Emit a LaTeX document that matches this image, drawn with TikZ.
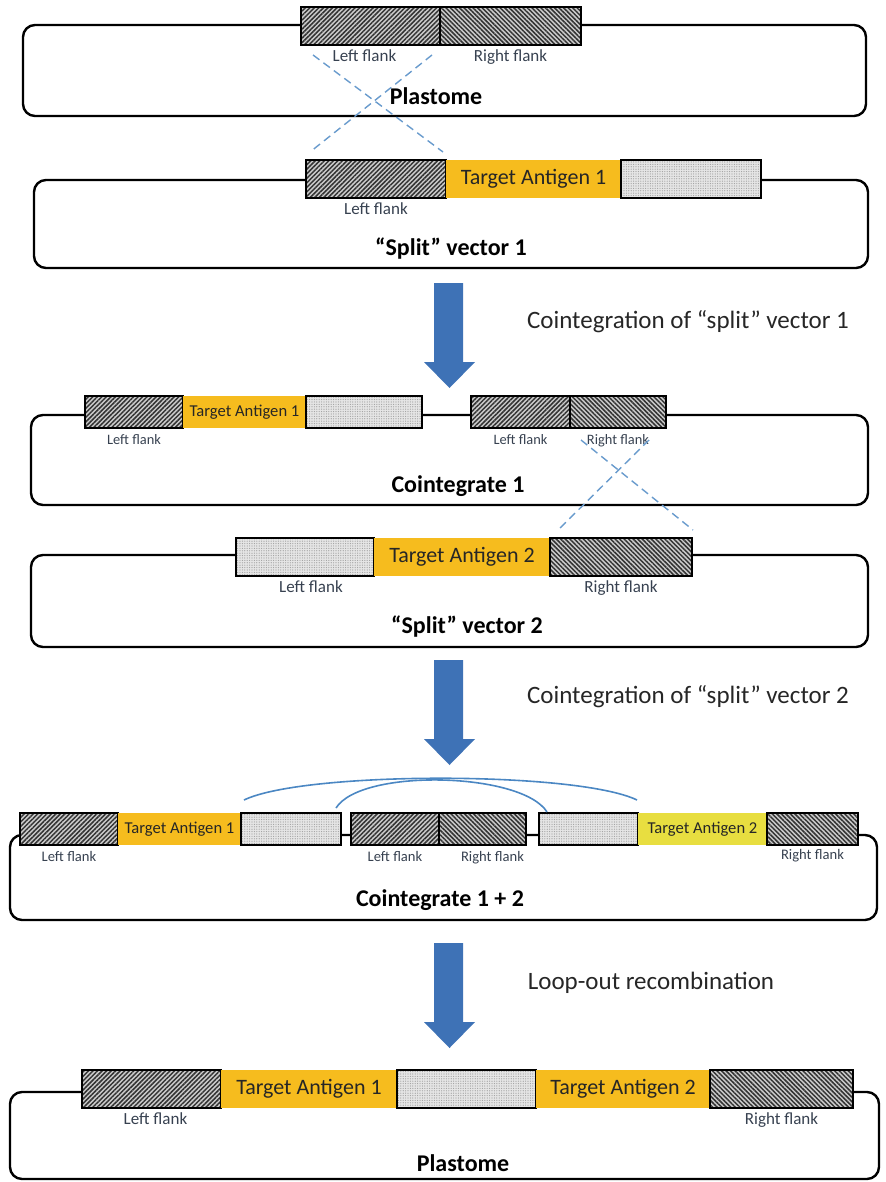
\documentclass[tikz,border=0pt]{standalone}
\usepackage{fontspec}
\setmainfont{Carlito}
\usetikzlibrary{positioning,patterns.meta}
\definecolor{antigen}{RGB}{246,188,30}
\definecolor{antigenlight}{RGB}{232,222,64}
\definecolor{crossblue}{RGB}{105,155,205}
\definecolor{arcblue}{RGB}{75,135,195}
\definecolor{arrowblue}{RGB}{62,114,182}
\definecolor{flanktext}{RGB}{55,65,80}
\newcommand{\processarrow}[1]{%
  \fill[arrowblue] (434,#1) -- ++(29,0) -- ++(0,79) -- ++(12,0)
    -- ++(-25.5,26) -- ++(-25.5,-26) -- ++(10,0) -- cycle;}

\begin{document}
\begin{tikzpicture}[x=0.5pt, y=-0.5pt, node distance=1pt,
    seg/.style={minimum height=19pt, inner sep=0pt, outer sep=0pt, anchor=west},
    lflank/.style={seg, draw, line width=0.9pt, preaction={fill=gray!40},
      pattern={Lines[angle=45, distance=1.6pt, line width=0.75pt]}, pattern color=black!80},
    rflank/.style={seg, draw, line width=0.9pt, preaction={fill=gray!40},
      pattern={Lines[angle=-45, distance=1.6pt, line width=0.75pt]}, pattern color=black!80},
    spacer/.style={seg, draw, line width=0.9pt, preaction={fill=gray!20},
      pattern={Dots[distance=1.2pt, radius=0.3pt]}, pattern color=gray!75},
    antigen/.style={seg, fill=antigen, text=black!85, font=\fontsize{11}{13}\selectfont},
    flanklabel/.style={inner sep=1pt, text=flanktext, font=\fontsize{8.5}{10}\selectfont},
    title/.style={font=\bfseries\fontsize{12}{14}\selectfont},
    process/.style={text=black!85, font=\fontsize{12.5}{15}\selectfont},
    genome/.style={draw, line width=1.2pt, rounded corners=6pt},
    cross/.style={crossblue, dash pattern=on 4pt off 2.5pt, line width=0.7pt},
    loop/.style={arcblue, line width=0.8pt}]
  \useasboundingbox (0,0) rectangle (885,1182);

  % plastome
  \draw[genome] (23,25) rectangle (866,116);
  \node[lflank, minimum width=69.5pt] (pl1lf) at (301,26) {};
  \node[rflank, minimum width=70.5pt, right=0pt of pl1lf] (pl1rf) {};
  \node[flanklabel, below=of pl1lf, xshift=-3pt] (pl1lft) {Left flank};
  \node[flanklabel, below=of pl1rf] (pl1rft) {Right flank};
  \node[title] (pl1) at (436,96) {Plastome};

  % split vector 1
  \draw[genome] (34,180) rectangle (868,268);
  \node[lflank, minimum width=70pt] (sv1lf) at (306,179) {};
  \node[antigen, minimum width=87.5pt, right=0pt of sv1lf] (sv1ta) {Target Antigen 1};
  \node[spacer, minimum width=70pt, right=0pt of sv1ta] (sv1sp) {};
  \node[flanklabel, below=of sv1lf] (sv1lft) {Left flank};
  \node[title] (sv1) at (451,249) {“Split” vector 1};

  \coordinate (x1a) at (313,55);
  \coordinate (x1b) at (443,152);
  \coordinate (x1c) at (432,55);
  \coordinate (x1d) at (310,152);
  \draw[cross] (x1a) -- (x1b);
  \draw[cross] (x1c) -- (x1d);

  \processarrow{283}
  \node[process] (step1) at (688,322) {Cointegration of “split” vector 1};

  % cointegrate 1
  \begin{scope}[node distance=2pt,
      seg/.append style={minimum height=16pt},
      antigen/.append style={font=\fontsize{8.3}{10}\selectfont},
      flanklabel/.append style={font=\fontsize{7.2}{8.5}\selectfont}]
    \draw[genome] (31,415) rectangle (868,505);
    \node[lflank, minimum width=49pt] (c1lf) at (85,412) {};
    \node[antigen, minimum width=61.5pt, right=0pt of c1lf] (c1ta) {Target Antigen 1};
    \node[spacer, minimum width=58pt, right=0pt of c1ta] (c1sp) {};
    \node[lflank, minimum width=49.5pt] (c1lf2) at (471,412) {};
    \node[rflank, minimum width=48pt, right=0pt of c1lf2] (c1rf) {};
    \node[flanklabel, below=of c1lf] (c1lft) {Left flank};
    \node[flanklabel, below=of c1lf2] (c1lft2) {Left flank};
    \node[flanklabel, below=of c1rf] (c1rft) {Right flank};
  \end{scope}
  \node[title] (c1) at (458,486) {Cointegrate 1};

  % split vector 2
  \draw[genome] (31,555) rectangle (868,647);
  \node[spacer, minimum width=69pt] (sv2sp) at (236,557) {};
  \node[antigen, minimum width=88pt, right=0pt of sv2sp] (sv2ta) {Target Antigen 2};
  \node[rflank, minimum width=71pt, right=0pt of sv2ta] (sv2rf) {};
  \node[flanklabel, below=of sv2sp, xshift=3pt] (sv2lft) {Left flank};
  \node[flanklabel, below=of sv2rf] (sv2rft) {Right flank};
  \node[title] (sv2) at (467,627) {“Split” vector 2};

  \coordinate (x2a) at (581,440);
  \coordinate (x2b) at (693,530);
  \coordinate (x2c) at (649,440);
  \coordinate (x2d) at (558,530);
  \draw[cross] (x2a) -- (x2b);
  \draw[cross] (x2c) -- (x2d);

  \processarrow{660}
  \node[process] (step2) at (688,697) {Cointegration of “split” vector 2};

  % cointegrate 1 + 2
  \begin{scope}[node distance=2pt,
      seg/.append style={minimum height=16pt},
      antigen/.append style={font=\fontsize{8.3}{10}\selectfont},
      flanklabel/.append style={font=\fontsize{7.3}{8.5}\selectfont}]
    \draw[genome] (10,835) rectangle (877,920);
    \node[lflank, minimum width=49pt] (c12lf) at (20,829) {};
    \node[antigen, minimum width=61.5pt, right=0pt of c12lf] (c12ta1) {Target Antigen 1};
    \node[spacer, minimum width=50pt, right=0pt of c12ta1] (c12sp1) {};
    \node[lflank, minimum width=44pt] (c12lf2) at (351,829) {};
    \node[rflank, minimum width=43.5pt, right=0pt of c12lf2] (c12rf2) {};
    \node[spacer, minimum width=49.5pt] (c12sp2) at (539,829) {};
    \node[antigen, fill=antigenlight, minimum width=64.5pt, right=0pt of c12sp2] (c12ta2) {Target Antigen 2};
    \node[rflank, minimum width=45.5pt, right=0pt of c12ta2] (c12rf) {};
    \node[flanklabel, below=of c12lf] (c12lft) {Left flank};
    \node[flanklabel, below=of c12lf2] (c12lft2) {Left flank};
    \node[flanklabel, below=of c12rf2, xshift=5pt] (c12rft2) {Right flank};
    \node[flanklabel, below=of c12rf, yshift=1pt] (c12rft) {Right flank};
  \end{scope}
  \node[title] (c12) at (440,900) {Cointegrate 1 + 2};

  \draw[loop] ([shift={(3,-13)}]c12sp1.north west)
    .. controls +(60,-29) and +(-60,-29) .. ([shift={(-1,-13)}]c12sp2.north east);
  \draw[loop] ([shift={(-5,-5)}]c12sp1.north east)
    .. controls +(25,-40) and +(-25,-40) .. ([shift={(8,-1)}]c12sp2.north west);

  \processarrow{943}
  \node[process] (step3) at (651,983) {Loop-out recombination};

  % plastome after loop-out
  \draw[genome] (10,1092) rectangle (879,1179);
  \node[lflank, minimum width=69.5pt] (pl2lf) at (82,1089) {};
  \node[antigen, minimum width=88pt, right=0pt of pl2lf] (pl2ta1) {Target Antigen 1};
  \node[spacer, minimum width=69.5pt, right=0pt of pl2ta1] (pl2sp) {};
  \node[antigen, minimum width=87pt, right=0pt of pl2sp] (pl2ta2) {Target Antigen 2};
  \node[rflank, minimum width=71.5pt, right=0pt of pl2ta2] (pl2rf) {};
  \node[flanklabel, below=of pl2lf, xshift=2pt] (pl2lft) {Left flank};
  \node[flanklabel, below=of pl2rf] (pl2rft) {Right flank};
  \node[title] (pl2) at (463,1163) {Plastome};
\end{tikzpicture}
\end{document}
